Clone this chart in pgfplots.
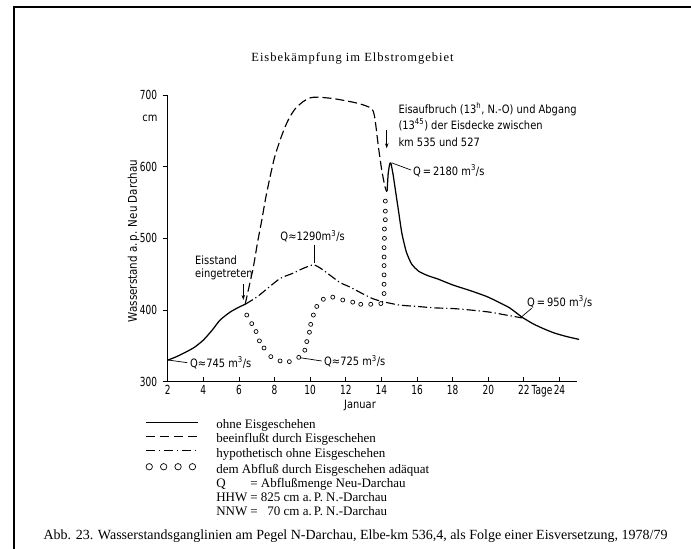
\documentclass[border=0pt]{standalone}
\usepackage{fontspec}
\setmainfont{Liberation Serif}
\newfontfamily\din[FakeStretch=0.86]{DejaVu Sans}
\newfontfamily\dinc[FakeStretch=0.72]{DejaVu Sans}
\newfontfamily\titlefont[LetterSpace=8]{Liberation Serif}
\usepackage{pgfplots}
\pgfplotsset{compat=1.18}
\usetikzlibrary{arrows.meta}

% Wasserstand a.P. Neu Darchau, Januar 1979
\pgfplotstableread{
x y
2.0 330
2.5 335
3.07 342
3.5 348
4.0 358
4.5 372
4.94 386
5.5 397
6.0 404
6.35 408
}\ohnea
\pgfplotstableread{
x y
14.32 566
14.38 590
14.46 603
14.53 605
14.65 590
14.8 565
14.95 540
15.15 507
15.4 481
15.7 464
16.1 454
16.6 448
17.2 443
18.0 435
19.0 427
19.9 419
20.5 412
21.2 403
21.9 390
22.5 381
23.1 374
23.7 368
24.4 363
25.1 359
}\ohneb
\pgfplotstableread{
x y
6.35 408
6.6 436
6.81 460
7.05 495
7.28 525
7.5 556
7.75 586
8.0 613
8.31 637
8.6 656
8.87 670
9.2 682
9.62 691
10.0 696
10.4 697
11.3 695
12.4 690
13.0 686
13.46 681
13.6 672
13.7 655
13.83 628
14.02 595
14.2 572
14.3 565
}\beein
\pgfplotstableread{
x y
6.35 408
7.0 418
7.5 428
8.31 444
9.0 451
9.6 458
10.18 463
10.6 458
11.2 447
11.7 438
12.24 432
13.0 422
13.5 416
14.02 412
15.0 407
16.0 405
17.0 403
18.05 402
19.0 400
20.1 397
21.0 393
21.9 389
}\hypo
\pgfplotstableread{
x y
6.44 393
6.72 381
6.96 370
7.15 357
7.41 347
7.79 335
8.31 329
8.83 328
9.36 334
9.70 344
9.81 356
9.96 369
10.03 380
10.18 393
10.37 405
10.74 415
11.27 418
11.83 414
12.39 411
12.84 408
13.40 408
13.97 409
14.15 423
14.15 436
14.15 449
14.15 462
14.15 474
14.15 487
14.17 500
14.17 513
14.22 526
14.22 538
14.22 552
}\adaequat

\begin{document}
\begin{tikzpicture}
\path[use as bounding box] (0pt,0pt) rectangle (691pt,549pt);
\draw[line width=2pt] (13.5pt,0pt) -- (13.5pt,541.5pt) -- (691pt,541.5pt);

\begin{axis}[
  at={(167.7pt,167.3pt)}, anchor=south west,
  scale only axis, width=409.6pt, height=286.7pt,
  xmin=2, xmax=25, ymin=300, ymax=700,
  axis lines*=left,
  axis line style={line width=1pt},
  clip=false,
  xtick={2,4,...,24},
  xticklabels={2,4,6,8,10,12,14,16,18,20,22,24},
  ytick={300,400,500,600,700},
  xtick align=inside, ytick align=outside,
  major tick length=5pt,
  every tick/.style={black, line width=0.8pt},
  tick label style={font=\dinc\fontsize{12.5}{12.5}\selectfont},
  yticklabel style={xshift=-2pt},
  /pgf/number format/assume math mode=true,
  legend cell align=left,
  legend style={at={(-0.0554,-0.136)}, anchor=north west, draw=none, fill=none,
    inner sep=0pt, column sep=18pt, row sep=4.1pt,
    font=\fontsize{13}{13}\selectfont,
    nodes={inner sep=0pt, text height=8pt, text depth=2pt}},
]
\addplot[line width=1.25pt, smooth, tension=0.4, forget plot] table {\ohnea};
\addplot[line width=1.25pt, smooth, tension=0.35, forget plot] table {\ohneb};
\addplot[line width=1.15pt, dash pattern=on 9pt off 4pt, smooth, tension=0.4, forget plot] table {\beein};
\addplot[line width=1.15pt, dash pattern=on 9pt off 3pt on 1.2pt off 3pt, smooth, tension=0.4, forget plot] table {\hypo};
\addplot[only marks, mark=o, mark size=2pt, mark options={line width=0.7pt}, forget plot] table {\adaequat};

\addlegendimage{legend image code/.code={\draw[line width=1.1pt] (0pt,3.5pt) -- (52pt,3.5pt);}}
\addlegendentry{ohne Eisgeschehen}
\addlegendimage{legend image code/.code={\draw[line width=1.1pt, dash pattern=on 9pt off 5pt] (0pt,3.5pt) -- (52pt,3.5pt);}}
\addlegendentry{beeinflußt durch Eisgeschehen}
\addlegendimage{legend image code/.code={\draw[line width=1.1pt, dash pattern=on 9pt off 4pt on 1.2pt off 4pt] (0pt,3.5pt) -- (52pt,3.5pt);}}
\addlegendentry{hypothetisch ohne Eisgeschehen}
\addlegendimage{legend image code/.code={\foreach \xx in {3.5,17.9,32.3,46.7} {\draw[line width=0.7pt] (\xx pt,3.5pt) circle (3.2pt);}}}
\addlegendentry{dem Abfluß durch Eisgeschehen adäquat}
\addlegendimage{empty legend}
\addlegendentry{\makebox[34pt][l]{Q}= Abflußmenge Neu-Darchau}
\addlegendimage{empty legend}
\addlegendentry{\makebox[34pt][l]{HHW}= 825 cm a.\,P. N.-Darchau}
\addlegendimage{empty legend}
\addlegendentry{\makebox[34pt][l]{NNW}= \phantom{8}70 cm a.\,P. N.-Darchau}
\end{axis}

% Beschriftung
\node[font=\titlefont\fontsize{12.5}{14}\selectfont] at (352.5pt,490.7pt) {Eisbekämpfung im Elbstromgebiet};
\node[font=\din\fontsize{12}{14}\selectfont, rotate=90] at (133.5pt,308pt) {Wasserstand a.\,p. Neu Darchau};
\node[font=\din\fontsize{11.5}{14}\selectfont] at (150pt,430.7pt) {cm};
\node[font=\dinc\fontsize{12.5}{14}\selectfont] at (542pt,157.3pt) {Tage};
\node[font=\din\fontsize{11.5}{14}\selectfont] at (360pt,144pt) {Januar};

\begin{scope}[font=\din\fontsize{11.5}{14}\selectfont, inner sep=0pt]
\node[anchor=west] at (398.3pt,440pt) {Eisaufbruch (13\textsuperscript{h}, N.-O) und Abgang};
\node[anchor=west] at (398.3pt,424pt) {(13\textsuperscript{45}) der Eisdecke zwischen};
\node[anchor=west] at (398.3pt,406.3pt) {km 535 und 527};
\draw[line width=0.8pt, -{Stealth[length=5pt,width=3.5pt]}] (386.7pt,419pt) -- (386.7pt,400.7pt);

\draw[line width=0.7pt] (392pt,386pt) -- (411pt,379pt);
\node[anchor=west] at (413pt,378.3pt) {Q\,=\,2180 m\textsuperscript{3}/s};

\node at (312.6pt,313pt) {Q≈1290m\textsuperscript{3}/s};
\draw[line width=0.7pt] (314.3pt,304pt) -- (314.3pt,286.3pt);

\node[anchor=west] at (195pt,289pt) {Eisstand};
\node[anchor=west] at (195pt,275pt) {eingetreten};
\draw[line width=0.8pt, -{Stealth[length=5pt,width=3.5pt]}] (243.3pt,265pt) -- (243.3pt,249pt);

\draw[line width=0.7pt] (168pt,189pt) -- (187.3pt,186.3pt);
\node[anchor=west] at (190pt,186.3pt) {Q≈745 m\textsuperscript{3}/s};

\draw[line width=0.7pt] (300pt,191.3pt) -- (321.7pt,188pt);
\node[anchor=west] at (324pt,188pt) {Q≈725 m\textsuperscript{3}/s};

\draw[line width=0.7pt] (521.7pt,232.3pt) -- (531.7pt,240.7pt);
\node[anchor=west] at (527pt,247.3pt) {Q\,=\,950 m\textsuperscript{3}/s};
\end{scope}

\node[anchor=west, font=\fontsize{14}{15}\selectfont] at (40pt,12.5pt) {Abb. 23. Wasserstandsganglinien am Pegel N-Darchau, Elbe-km 536,4, als Folge einer Eisversetzung, 1978/79};
\end{tikzpicture}
\end{document}
